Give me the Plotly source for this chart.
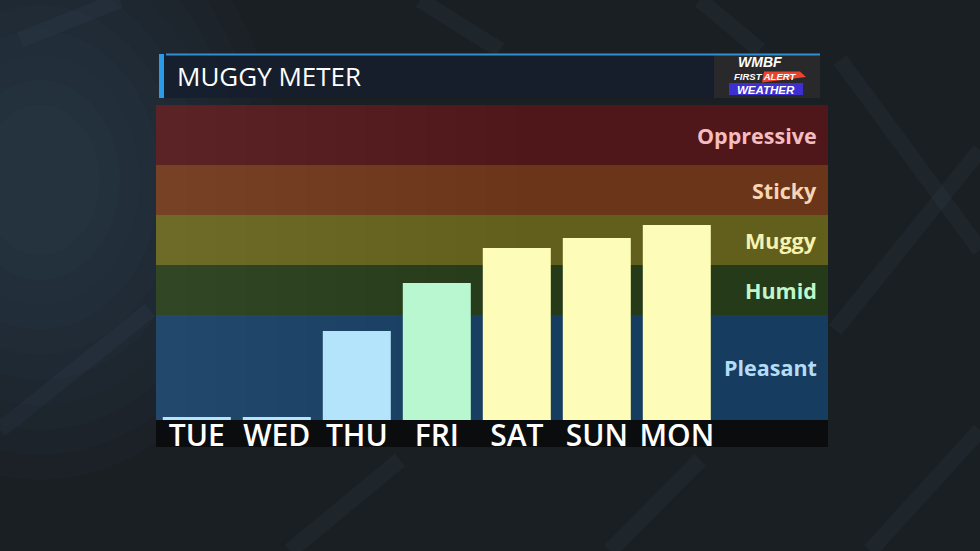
import plotly.graph_objects as go

# Data: dew point style readings per day
DAYS = ['TUE', 'WED', 'THU', 'FRI', 'SAT', 'SUN', 'MON']
VALUES = [49.8, 49.8, 58.4, 63.2, 66.7, 67.7, 69.0]
BAR_COLORS = ['#b3e4fb', '#b3e4fb', '#b3e4fb', '#b8f7cf', '#fdfcb9', '#fdfcb9', '#fdfcb9']

# Muggy meter bands
BAND_NAMES = ['Pleasant', 'Humid', 'Muggy', 'Sticky', 'Oppressive']
BAND_LOW = [49.5, 60, 65, 70, 75]
BAND_HIGH = [60, 65, 70, 75, 81]
BAND_FILL = ['#163d60', '#253a19', '#625f1c', '#6b3519', '#4f171a']
BAND_TEXT = ['#b5dcf6', '#bff6cb', '#f7f2ae', '#f6d5b5', '#f5bdbf']

Y_MIN, Y_MAX = 49.5, 81

# plot area in pixels
W, H = 980, 551
PL, PR, PT, PB = 156, 828, 105, 420


def px_x(px):
    return (px - PL) / (PR - PL)


def px_y(py):
    return (PB - py) / (PB - PT)


fig = go.Figure()

fig.add_trace(go.Bar(
    x=DAYS, y=VALUES, base=0,
    marker=dict(color=BAR_COLORS, line=dict(width=0)),
    width=0.85, hoverinfo='x+y', showlegend=False
))

shapes = []

# soft bluish glow on the left of the background
for i in range(10):
    r = 300 - i * 25
    shapes.append(dict(type='circle', xref='paper', yref='paper', layer='below',
                       x0=px_x(40 - r * 0.8), x1=px_x(40 + r * 0.8), y0=px_y(180 + r), y1=px_y(180 - r),
                       fillcolor='#4d6f8c', opacity=0.04, line=dict(width=0)))
# faint streaks
for (xa, ya, xb, yb) in [(840, 60, 980, 250), (835, 330, 980, 150), (0, 430, 150, 310),
                         (290, 551, 400, 460), (610, 551, 700, 460), (20, 40, 120, 0),
                         (870, 551, 980, 430), (420, 0, 500, 50), (700, 0, 760, 50)]:
    shapes.append(dict(type='line', xref='paper', yref='paper', layer='below',
                       x0=px_x(xa), y0=px_y(ya), x1=px_x(xb), y1=px_y(yb),
                       line=dict(color='rgba(110,140,165,0.06)', width=16)))

# bands
for lo, hi, fill in zip(BAND_LOW, BAND_HIGH, BAND_FILL):
    shapes.append(dict(type='rect', xref='paper', yref='y', layer='below',
                       x0=0, x1=1, y0=lo, y1=hi, fillcolor=fill, line=dict(width=0)))
# lighter left side (stepped gradient)
for i in range(12):
    shapes.append(dict(type='rect', xref='paper', yref='y', layer='below',
                       x0=0, x1=px_x(156 + (12 - i) * 30), y0=Y_MIN, y1=Y_MAX,
                       fillcolor='rgba(255,255,255,0.009)', line=dict(width=0)))

# label strip under bars
shapes.append(dict(type='rect', xref='paper', yref='paper', layer='below',
                   x0=0, x1=1, y0=px_y(447), y1=px_y(420),
                   fillcolor='rgba(10,11,13,0.92)', line=dict(width=0)))

# title bar
shapes.append(dict(type='rect', xref='paper', yref='paper', layer='below',
                   x0=px_x(160), x1=px_x(820), y0=px_y(98), y1=px_y(54),
                   fillcolor='rgba(22,30,46,0.92)', line=dict(width=0)))
shapes.append(dict(type='rect', xref='paper', yref='paper', layer='below',
                   x0=px_x(714), x1=px_x(820), y0=px_y(98), y1=px_y(55),
                   fillcolor='#29292b', line=dict(width=0)))
shapes.append(dict(type='rect', xref='paper', yref='paper', layer='below',
                   x0=px_x(166), x1=px_x(820), y0=px_y(55.5), y1=px_y(53.5),
                   fillcolor='#2f8fd0', line=dict(width=0)))
shapes.append(dict(type='rect', xref='paper', yref='paper', layer='below',
                   x0=px_x(159), x1=px_x(164), y0=px_y(98), y1=px_y(54),
                   fillcolor='#2a9be6', line=dict(width=0)))
# logo pieces
shapes.append(dict(type='path', xref='paper', yref='paper', layer='below',
                   path='M {} {} L {} {} L {} {} L {} {} Z'.format(
                       px_x(764), px_y(71.5), px_x(800), px_y(71.5), px_x(806), px_y(77),
                       px_x(762), px_y(82.5)),
                   fillcolor='#e8442f', line=dict(width=0)))
shapes.append(dict(type='rect', xref='paper', yref='paper', layer='below',
                   x0=px_x(729), x1=px_x(803), y0=px_y(95), y1=px_y(83),
                   fillcolor='#3d2fd0', line=dict(width=0)))

annotations = []
for name, lo, hi, col in zip(BAND_NAMES, BAND_LOW, BAND_HIGH, BAND_TEXT):
    annotations.append(dict(text=name, xref='paper', yref='y', x=px_x(819), y=(lo + hi) / 2,
                            xanchor='right', yanchor='middle', showarrow=False,
                            font=dict(family='Open Sans', size=21.5, color=col, weight='bold')))

annotations.append(dict(text='MUGGY METER', xref='paper', yref='paper', x=px_x(175), y=px_y(76),
                        xanchor='left', yanchor='middle', showarrow=False,
                        font=dict(family='Open Sans', size=26, color='#ffffff')))

# logo text
annotations.append(dict(text='<b><i>WMBF</i></b>', xref='paper', yref='paper', x=px_x(760), y=px_y(62),
                        xanchor='center', yanchor='middle', showarrow=False,
                        font=dict(family='Liberation Sans', size=14, color='#ffffff')))
annotations.append(dict(text='<b><i>FIRST ALERT</i></b>',
                        xref='paper', yref='paper', x=px_x(765), y=px_y(76.5),
                        xanchor='center', yanchor='middle', showarrow=False,
                        font=dict(family='Liberation Sans', size=9.5, color='#ffffff')))
annotations.append(dict(text='<b><i>WEATHER</i></b>', xref='paper', yref='paper', x=px_x(766), y=px_y(90),
                        xanchor='center', yanchor='middle', showarrow=False,
                        font=dict(family='Liberation Sans', size=11.5, color='#ffffff')))

fig.update_layout(
    width=W, height=H,
    margin=dict(l=PL, r=W - PR, t=PT, b=H - PB),
    paper_bgcolor='#1a1f24',
    plot_bgcolor='rgba(0,0,0,0)',
    shapes=shapes,
    annotations=annotations,
    xaxis=dict(range=[-0.51, 7.89], showgrid=False, zeroline=False, showline=False,
               ticks='', tickfont=dict(family='Open Sans', size=30, color='#ffffff', weight=600),
               ticklabelstandoff=-5, fixedrange=True),
    yaxis=dict(range=[Y_MIN, Y_MAX], showgrid=False, zeroline=False, showline=False,
               showticklabels=False, fixedrange=True),
)

fig.write_html('out.html', config={'displayModeBar': False},
               post_script="document.body.style.margin='0';")
